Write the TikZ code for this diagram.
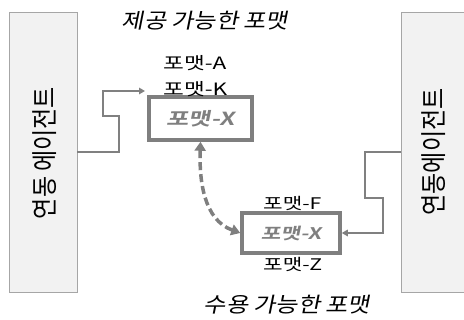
\documentclass[tikz,border=0pt]{standalone}
\usepackage{fontspec}
\usepackage{graphicx}
\setmainfont{Noto Sans CJK KR}
\newfontfamily\krlab{Noto Sans CJK KR}[FakeStretch=1.33]
\newfontfamily\krtitle{Noto Sans CJK KR}[FakeSlant=0.2,FakeStretch=1.15]
\newfontfamily\krbox{Noto Sans CJK KR Bold}[FakeSlant=0.2,FakeStretch=1.35]
\usetikzlibrary{arrows.meta,shadows}
\definecolor{boxgray}{HTML}{7F7F7F}
\definecolor{agentfill}{HTML}{F2F2F2}
\definecolor{agentline}{HTML}{A6A6A6}
\definecolor{linegray}{HTML}{808080}
\newcommand{\agentlabel}[1]{\scalebox{1}[1.15]{#1}}
\tikzset{
  agent/.style={draw=agentline, fill=agentfill, line width=0.8pt, minimum width=68pt, minimum height=280pt, inner sep=0pt},
  agenttext/.style={rotate=90, inner sep=0pt, font=\fontsize{23}{25}\selectfont},
  fmtbox/.style={draw=boxgray, fill=white, line width=3.5pt, inner sep=0pt, text=boxgray,
    drop shadow={opacity=0.3, shadow xshift=1.5pt, shadow yshift=-1.5pt}},
  fmtlbl/.style={anchor=west, inner sep=0pt, font=\krlab\fontsize{17}{19}\selectfont},
  titlelbl/.style={inner sep=0pt, font=\krtitle\fontsize{21}{23}\selectfont},
  conn/.style={draw=linegray, line width=1.4pt, -{Triangle[length=6pt,width=6.5pt]}},
  dashconn/.style={draw=boxgray, line width=3.5pt, dash pattern=on 8pt off 4pt, {Triangle[length=9pt,width=11pt]}-{Triangle[length=9pt,width=11pt]}}
}
\begin{document}
\begin{tikzpicture}[x=1pt,y=-1pt]
\useasboundingbox (0,0) rectangle (464,320);
\node[agent] (leftagent) at (43,152) {};
\node[agenttext] (lefttext) at (45,153) {\agentlabel{연동 에이전트}};
\node[agent] (rightagent) at (435,152) {};
\node[agenttext] (righttext) at (434,152) {\agentlabel{연동에이전트}};

\node[titlelbl] (title1) at (205,21) {제공 가능한 포맷};
\node[titlelbl] (title2) at (287,305) {수용 가능한 포맷};

\node[fmtbox, minimum width=103pt, minimum height=43pt, font=\krbox\fontsize{18}{20}\selectfont] (topbox) at (200.5,118.5) {포맷-X};
\node[fmtbox, minimum width=98pt, minimum height=40pt, font=\krbox\fontsize{16}{18}\selectfont] (botbox) at (291,233) {포맷-X};

\node[fmtlbl] (fmtA) at (163,63) {포맷-A};
\node[fmtlbl] (fmtK) at (163,89) {포맷-K};
\node[fmtlbl, font=\krlab\fontsize{16}{18}\selectfont] (fmtF) at (263,203) {포맷-F};
\node[fmtlbl, font=\krlab\fontsize{16}{18}\selectfont] (fmtZ) at (263,264) {포맷-Z};

\coordinate (inend) at (145,91);
\draw[conn] (leftagent.east) -- (119,152) -- (119,116) -- (103,116) -- (103,91) -- (inend);
\draw[conn] (rightagent.west) -- (365,152) -- (365,198) -- (383,198) -- (383,233) -- (botbox.east);
\draw[dashconn] (topbox.south) to[out=-92,in=160] (botbox.west);
\end{tikzpicture}
\end{document}
